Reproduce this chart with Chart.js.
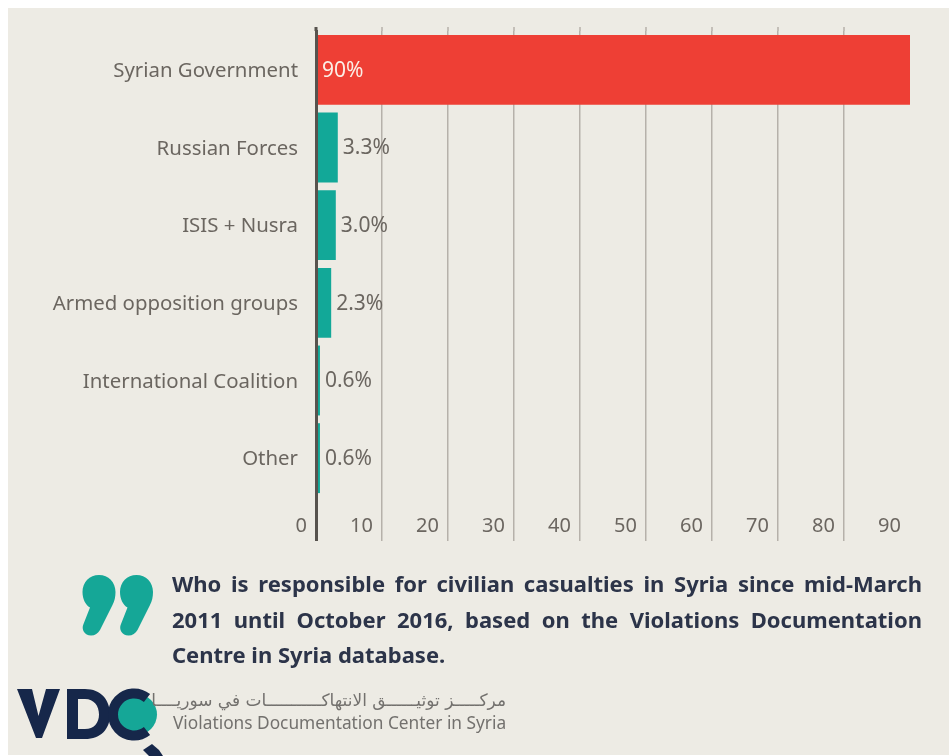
<!DOCTYPE html>
<html lang="en">
<head>
<meta charset="utf-8">
<title>Civilian casualties in Syria by responsible party</title>
<script src="https://cdn.jsdelivr.net/npm/chart.js@4"></script>
<style>
  html, body { margin: 0; padding: 0; background: #fff; }
  #page { position: relative; width: 949px; height: 756px; overflow: hidden; }
  #panel { position: absolute; left: 8px; top: 8px; right: 0; bottom: 1px; background: #edebe4; }
  #chart { position: absolute; left: 0; top: 0; width: 949px; height: 756px; }
  #caption {
    position: absolute; left: 172px; top: 566px; width: 750px;
    font: 700 22px/35.5px "Noto Sans", sans-serif; color: #2c3449;
    text-align: justify;
  }
  #org { position: absolute; left: 173px; top: 688px; width: 333px; color: #73716e; }
  #org .ar { font: 17px/24px "DejaVu Sans", sans-serif; direction: rtl; white-space: nowrap; }
  #org .en { font: 17.3px/22px "Noto Sans", sans-serif; white-space: nowrap; }
  svg.art { position: absolute; left: 0; top: 0; }
</style>
</head>
<body>
<div id="page">
  <div id="panel"></div>
  <canvas id="chart" width="949" height="756"></canvas>

  <svg class="art" width="949" height="756" viewBox="0 0 949 756">
    <!-- closing quotation mark -->
    <g fill="#15a797">
      <path id="q" d="M99 575C108.5 575 115.5 582 115.5 592C115.5 597 114.5 601 112.5 605L100 630C98 633.5 95 635.5 91 635.5C84.5 635.5 81 629.5 83.5 624L90 607.5C85.5 605 82.5 599 82.5 592C82.5 582 89.5 575 99 575Z"/>
      <use href="#q" x="37.5"/>
    </g>
    <!-- VDC logotype with the magnifier and pencil -->
    <circle cx="136.5" cy="714.5" r="20.5" fill="#15a797"/>
    <g fill="#16274a">
      <path d="M17 689H32L38.5 716L46 689H60L42 738H36Z"/>
      <path fill-rule="evenodd" d="M67 689H85C101 689 110 700 110 714.5S101 739 85 739H67ZM78 699V729H85C94 729 99 723 99 714.5S94 699 85 699Z"/>
      <path d="M143 750L152 744L159 750L163 756H149Z"/>
    </g>
    <path d="M147 698A21 21 0 1 0 147 731" fill="none" stroke="#16274a" stroke-width="10"/>
  </svg>

  <div id="caption">Who is responsible for civilian casualties in Syria since mid-March 2011 until October 2016, based on the Violations Documentation Centre in Syria database.</div>
  <div id="org">
    <div class="ar">مركـــــز توثيــــــق الانتهاكـــــــــــات في سوريــــا</div>
    <div class="en">Violations Documentation Center in Syria</div>
  </div>
</div>

<script>
// Share of civilian deaths attributed to each party, in percent
const categories = ["Syrian Government", "Russian Forces", "ISIS + Nusra", "Armed opposition groups", "International Coalition", "Other"];
const shares = [90, 3.3, 3.0, 2.3, 0.6, 0.6];
const shareLabels = ["90%", "3.3%", "3.0%", "2.3%", "0.6%", "0.6%"];
const barColors = ["#ee3f35", "#12a898", "#12a898", "#12a898", "#12a898", "#12a898"];
const axisMax = 90;
const tickStep = 10;

const INK = "#6b6660";
const GRID = "#b6b1aa";
const ZERO = "#57534e";

const gridColor = ctx => ctx.index === 0 ? ZERO : (ctx.tick && ctx.tick.value === axisMax ? "transparent" : GRID);
const gridWidth = ctx => ctx.index === 0 ? 3 : 1.5;

// Grid lines stand slightly proud of the plot area at the top
const gridCaps = {
  id: "gridCaps",
  beforeDatasetsDraw(chart) {
    const { ctx, chartArea, scales } = chart;
    ctx.save();
    scales.x.ticks.forEach((t, i) => {
      if (t.value === axisMax) return;
      ctx.strokeStyle = i === 0 ? ZERO : GRID;
      ctx.lineWidth = i === 0 ? 3 : 1.5;
      const x = scales.x.getPixelForValue(t.value);
      ctx.beginPath();
      ctx.moveTo(x, chartArea.top - 4);
      ctx.lineTo(x, chartArea.top);
      ctx.stroke();
    });
    ctx.restore();
  }
};

// Value labels: inside the long red bar, just past the end of the short ones
const valueLabels = {
  id: "valueLabels",
  afterDatasetsDraw(chart) {
    const { ctx, chartArea } = chart;
    const bars = chart.getDatasetMeta(0).data;
    ctx.save();
    ctx.font = '21px "Noto Sans", sans-serif';
    ctx.textBaseline = "middle";
    bars.forEach((bar, i) => {
      const inside = shares[i] > 50;
      ctx.fillStyle = inside ? "#fbeee6" : INK;
      ctx.fillText(shareLabels[i], inside ? chartArea.left + 6 : bar.x + 5, bar.y + 1);
    });
    ctx.restore();
  }
};

new Chart(document.getElementById("chart"), {
  type: "bar",
  data: {
    labels: categories,
    datasets: [{
      data: shares,
      backgroundColor: barColors,
      barPercentage: 0.9,
      categoryPercentage: 1
    }]
  },
  plugins: [gridCaps, valueLabels],
  options: {
    indexAxis: "y",
    responsive: false,
    animation: false,
    layout: { padding: { top: 31, right: 39, left: 0, bottom: 0 } },
    plugins: { legend: { display: false }, tooltip: { enabled: false } },
    scales: {
      x: {
        type: "linear",
        min: 0,
        max: axisMax,
        afterFit(scale) { scale.height = 259; },
        border: { display: false },
        grid: {
          color: gridColor,
          tickColor: gridColor,
          lineWidth: gridWidth,
          tickWidth: gridWidth,
          tickLength: 44
        },
        ticks: {
          stepSize: tickStep,
          align: "end",
          labelOffset: -9,
          padding: -27,
          maxRotation: 0,
          color: INK,
          font: { family: '"Noto Sans", sans-serif', size: 20 }
        }
      },
      y: {
        afterFit(scale) { scale.width = 316; },
        border: { color: ZERO, width: 3, z: 1 },
        grid: { display: false, drawTicks: false },
        ticks: {
          padding: 18,
          labelOffset: 1.5,
          color: INK,
          font: { family: '"Noto Sans", sans-serif', size: 20.4 }
        }
      }
    }
  }
});
</script>
</body>
</html>
